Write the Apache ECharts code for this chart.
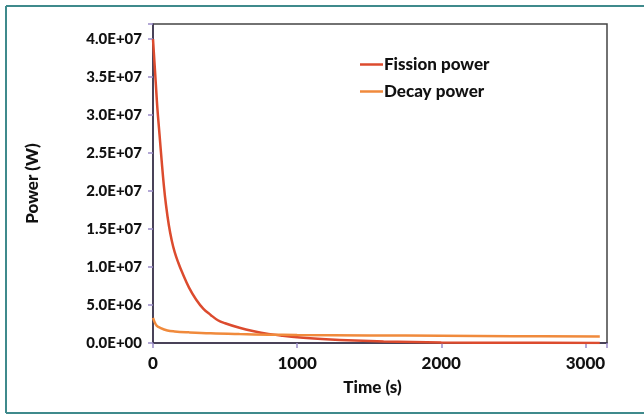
<!DOCTYPE html>
<html>
<head>
<meta charset="utf-8">
<script src="https://cdn.jsdelivr.net/npm/echarts@6/dist/echarts.min.js"></script>
<style>
html,body{margin:0;padding:0;background:#fff;}
#chart{width:644px;height:414px;}
</style>
</head>
<body>
<div id="chart"></div>
<script>
// Data
var fissionTime = [0, 10, 20, 30, 45, 60, 75, 90, 110, 130, 150, 175, 200, 250, 300, 350, 400, 450, 500, 600, 700, 800, 900, 1000, 1200, 1400, 1600, 2000, 2500, 3100];
var fissionPower = [40.0e6, 37.0e6, 34.0e6, 31.0e6, 27.5e6, 24.0e6, 20.8e6, 18.2e6, 15.5e6, 13.5e6, 12.0e6, 10.6e6, 9.4e6, 7.3e6, 5.7e6, 4.5e6, 3.7e6, 3.0e6, 2.6e6, 2.0e6, 1.55e6, 1.2e6, 0.95e6, 0.75e6, 0.5e6, 0.32e6, 0.2e6, 0.08e6, 0.03e6, 0.01e6];
var decayTime = [0, 10, 25, 50, 100, 150, 250, 400, 600, 800, 1000, 1500, 2000, 2500, 3100];
var decayPower = [3.3e6, 2.8e6, 2.3e6, 2.0e6, 1.65e6, 1.52e6, 1.4e6, 1.27e6, 1.17e6, 1.1e6, 1.05e6, 1.0e6, 0.95e6, 0.9e6, 0.86e6];
var seriesNames = ['Fission power', 'Decay power'];
var xTicks = [0, 1000, 2000, 3000];
var yTicks = [0, 5e6, 10e6, 15e6, 20e6, 25e6, 30e6, 35e6, 40e6];

function pairs(t, v) { return t.map(function (x, i) { return [x, v[i]]; }); }
function sci(v) {
  if (v === 0) return '0.0E+00';
  var e = Math.floor(Math.log10(v));
  var m = v / Math.pow(10, e);
  return m.toFixed(1) + 'E+' + (e < 10 ? '0' + e : e);
}
var font = 'Lato, "Open Sans", sans-serif';
var chart = echarts.init(document.getElementById('chart'));
chart.setOption({
  animation: false,
  backgroundColor: '#fff',
  graphic: [
    { type: 'line', shape: { x1: 6, y1: 6, x2: 644, y2: 6 }, style: { stroke: '#3f8a8c', lineWidth: 2 } },
    { type: 'line', shape: { x1: 6, y1: 6, x2: 6, y2: 413 }, style: { stroke: '#3f8a8c', lineWidth: 2 } },
    { type: 'line', shape: { x1: 6, y1: 413, x2: 644, y2: 413 }, style: { stroke: '#3f8a8c', lineWidth: 2 } }
  ],
  grid: { left: 153, top: 24, right: 37, bottom: 71, show: true, borderColor: '#444', borderWidth: 1.5 },
  legend: {
    left: 355, top: 51, orient: 'vertical', itemGap: 10,
    icon: 'rect', itemWidth: 23, itemHeight: 2.5,
    textStyle: { fontFamily: font, fontWeight: 900, fontSize: 17, color: '#111', padding: [0, 0, 0, -4] },
    data: seriesNames
  },
  xAxis: {
    type: 'value', min: 0, max: 3150, interval: 1000,
    name: 'Time (s)', nameLocation: 'middle', nameGap: 36,
    nameTextStyle: { fontFamily: font, fontWeight: 900, fontSize: 17, color: '#111', padding: [0, 15, 0, 0] },
    axisLine: { lineStyle: { color: '#3d3350', width: 1.5 } },
    axisTick: { show: true, length: 5, lineStyle: { color: '#9a8cc8', width: 1.5 } },
    axisLabel: {
      fontFamily: font, fontWeight: 900, fontSize: 17, color: '#111', margin: 12,
      formatter: function (v) { return xTicks.indexOf(v) >= 0 ? String(v) : ''; }
    },
    splitLine: { show: false }
  },
  yAxis: {
    type: 'value', min: 0, max: 42e6, interval: 5e6,
    name: 'Power (W)', nameLocation: 'middle', nameGap: 112, nameRotate: 90,
    nameTextStyle: { fontFamily: font, fontWeight: 900, fontSize: 17, color: '#111' },
    axisLine: { show: true, lineStyle: { color: '#3d3350', width: 1.5 } },
    axisTick: { show: true, length: 5, lineStyle: { color: '#9a8cc8', width: 1.5 } },
    axisLabel: {
      fontFamily: font, fontWeight: 900, fontSize: 15, color: '#111', margin: 11,
      formatter: function (v) { return yTicks.indexOf(v) >= 0 ? sci(v) : ''; }
    },
    splitLine: { show: false }
  },
  series: [
    { name: seriesNames[0], type: 'line', smooth: 0.4, symbol: 'none', data: pairs(fissionTime, fissionPower),
      lineStyle: { color: '#dc4b2e', width: 2.5 }, itemStyle: { color: '#dc4b2e' } },
    { name: seriesNames[1], type: 'line', smooth: 0.4, symbol: 'none', data: pairs(decayTime, decayPower),
      lineStyle: { color: '#f08a3c', width: 2.5 }, itemStyle: { color: '#f08a3c' } }
  ]
});
</script>
</body>
</html>
